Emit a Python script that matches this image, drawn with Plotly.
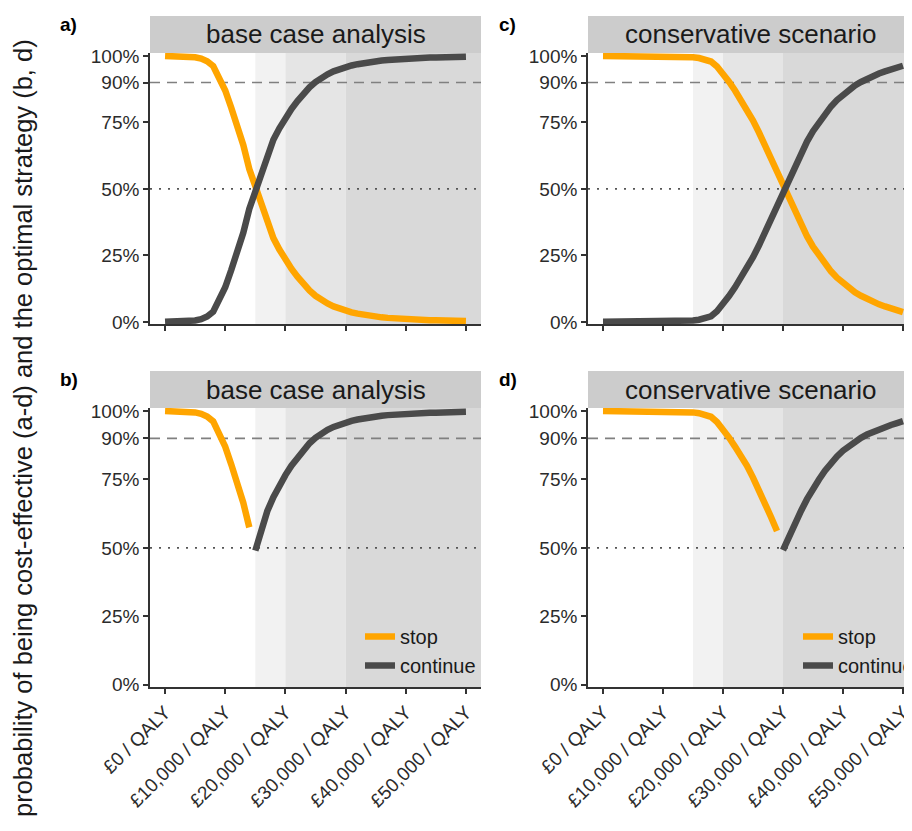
import plotly.graph_objects as go

# ---------------- data ----------------
wtp = list(range(0, 50001, 1000))

base_stop = [1.000, 1.000, 1.000, 0.999, 0.998, 0.995, 0.990, 0.980, 0.962, 0.915,
             0.870, 0.805, 0.740, 0.665, 0.575, 0.510, 0.435, 0.365, 0.315, 0.272,
             0.234, 0.200, 0.170, 0.142, 0.118, 0.098, 0.082, 0.069, 0.058, 0.049,
             0.042, 0.036, 0.031, 0.026, 0.022, 0.019, 0.017, 0.015, 0.013, 0.011,
             0.010, 0.009, 0.008, 0.007, 0.006, 0.006, 0.005, 0.005, 0.004, 0.004,
             0.003]
base_continue = [0.000, 0.000, 0.000, 0.001, 0.002, 0.005, 0.010, 0.020, 0.038, 0.085,
                 0.130, 0.195, 0.260, 0.335, 0.425, 0.490, 0.565, 0.635, 0.685, 0.728,
                 0.766, 0.800, 0.830, 0.858, 0.882, 0.902, 0.918, 0.931, 0.942, 0.951,
                 0.958, 0.964, 0.969, 0.974, 0.978, 0.981, 0.983, 0.985, 0.987, 0.989,
                 0.990, 0.991, 0.992, 0.993, 0.994, 0.994, 0.995, 0.995, 0.996, 0.996,
                 0.997]
cons_stop = [1.000, 1.000, 1.000, 1.000, 1.000, 1.000, 1.000, 1.000, 1.000, 0.999,
             0.999, 0.999, 0.998, 0.998, 0.997, 0.995, 0.992, 0.987, 0.979, 0.960,
             0.935, 0.903, 0.870, 0.836, 0.800, 0.757, 0.712, 0.663, 0.613, 0.562,
             0.508, 0.457, 0.410, 0.365, 0.322, 0.283, 0.250, 0.218, 0.190, 0.166,
             0.145, 0.127, 0.111, 0.098, 0.086, 0.076, 0.066, 0.058, 0.051, 0.044,
             0.037]
cons_continue = [0.000, 0.000, 0.000, 0.000, 0.000, 0.000, 0.000, 0.000, 0.000, 0.001,
                 0.001, 0.001, 0.002, 0.002, 0.003, 0.005, 0.008, 0.013, 0.021, 0.040,
                 0.065, 0.097, 0.130, 0.164, 0.200, 0.243, 0.288, 0.337, 0.387, 0.438,
                 0.492, 0.543, 0.590, 0.635, 0.678, 0.717, 0.750, 0.782, 0.810, 0.834,
                 0.855, 0.873, 0.889, 0.902, 0.914, 0.924, 0.934, 0.942, 0.949, 0.956,
                 0.963]

# threshold at which the optimal strategy switches from stop to continue
base_switch = 15000
cons_switch = 30000

# willingness-to-pay bands shaded in the background
band_edges = [15000, 20000, 30000]

x_ticks = [0, 10000, 20000, 30000, 40000, 50000]
x_labels = ["£0 / QALY", "£10,000 / QALY", "£20,000 / QALY",
            "£30,000 / QALY", "£40,000 / QALY", "£50,000 / QALY"]
y_ticks = [0, 0.25, 0.5, 0.75, 0.9, 1.0]
y_labels = ["0%", "25%", "50%", "75%", "90%", "100%"]

strip_titles = ["base case analysis", "conservative scenario"]
series_names = ["stop", "continue"]
y_title = "probability of being cost-effective (a-d) and the optimal strategy (b, d)"

# ---------------- styling ----------------
W, H = 912, 831
OFF = 8  # page body margin
ORANGE = "#FFA500"
DARK = "#4A4A4A"
AXIS = "#333333"
FONT = "Liberation Sans, Arial, sans-serif"
band_colors = ["#F2F2F2", "#E5E5E5", "#D9D9D9"]
STRIP = "#CCCCCC"


def px_x(p):
    return (p - OFF) / W


def px_y(p):
    return 1 - (p - OFF) / H


cols = [(150, 481), (588, 912)]
rows = [(53, 324), (408, 687)]
strips = [(16, 53), (371, 408)]
xranges = [[-2500, 52500], [-2500, 51500]]
yrange = [-0.008, 1.011]

fig = go.Figure()

panels = [
    (0, 0, "base", False, "a)"),
    (1, 0, "base", True, "b)"),
    (0, 1, "cons", False, "c)"),
    (1, 1, "cons", True, "d)"),
]

shapes = []
annotations = []

for idx, (r, c, scen, optimal, tag) in enumerate(panels):
    n = idx + 1
    xa = "x" if n == 1 else f"x{n}"
    ya = "y" if n == 1 else f"y{n}"
    xkey = "xaxis" if n == 1 else f"xaxis{n}"
    ykey = "yaxis" if n == 1 else f"yaxis{n}"
    stop = base_stop if scen == "base" else cons_stop
    cont = base_continue if scen == "base" else cons_continue
    switch = base_switch if scen == "base" else cons_switch

    if optimal:
        sx = [w for w in wtp if w < switch]
        sy = [v for w, v in zip(wtp, stop) if w < switch]
        cx = [w for w in wtp if w >= switch]
        cy = [v for w, v in zip(wtp, cont) if w >= switch]
        leg = "legend" if c == 0 else "legend2"
        show = True
    else:
        sx, sy, cx, cy = wtp, stop, wtp, cont
        leg = "legend"
        show = False

    fig.add_trace(go.Scatter(x=sx, y=sy, mode="lines", name=series_names[0],
                             line=dict(color=ORANGE, width=6.5), xaxis=xa, yaxis=ya,
                             showlegend=show, legend=leg))
    fig.add_trace(go.Scatter(x=cx, y=cy, mode="lines", name=series_names[1],
                             line=dict(color=DARK, width=6.5), xaxis=xa, yaxis=ya,
                             showlegend=show, legend=leg))

    x0p, x1p = cols[c]
    y0p, y1p = rows[r]
    xr = xranges[c]
    fig.update_layout(**{
        xkey: dict(domain=[px_x(x0p), px_x(x1p)], range=xr, anchor=ya,
                   showgrid=False, zeroline=False, showline=True, linecolor=AXIS,
                   linewidth=1.6, ticks="outside", ticklen=5, tickwidth=1.6,
                   tickcolor=AXIS, tickvals=x_ticks, ticktext=x_labels,
                   showticklabels=(r == 1), tickangle=-45,
                   tickfont=dict(family=FONT, size=19, color="#2B2B2B"),
                   automargin=False, fixedrange=True),
        ykey: dict(domain=[px_y(y1p), px_y(y0p)], range=yrange, anchor=xa,
                   showgrid=False, zeroline=False, showline=True, linecolor=AXIS,
                   linewidth=1.6, ticks="outside", ticklen=5, tickwidth=1.6,
                   tickcolor=AXIS, tickvals=y_ticks, ticktext=y_labels,
                   tickfont=dict(family=FONT, size=19, color="#2B2B2B"),
                   automargin=False, fixedrange=True),
    })

    edges = band_edges + [xr[1]]
    for k in range(len(band_edges)):
        shapes.append(dict(type="rect", xref=xa, yref=f"{ya} domain",
                           x0=edges[k], x1=edges[k + 1], y0=0, y1=1,
                           fillcolor=band_colors[k], line=dict(width=0), layer="below"))
    shapes.append(dict(type="line", xref=f"{xa} domain", yref=ya, x0=0, x1=1,
                       y0=0.9, y1=0.9, line=dict(color="#808080", width=1.6,
                                                 dash="10px,7px"), layer="below"))
    shapes.append(dict(type="line", xref=f"{xa} domain", yref=ya, x0=0, x1=1,
                       y0=0.5, y1=0.5, line=dict(color="#555555", width=1.6,
                                                 dash="2px,7px"), layer="below"))
    s0, s1 = strips[r]
    shapes.append(dict(type="rect", xref="paper", yref="paper",
                       x0=px_x(x0p), x1=px_x(x1p), y0=px_y(s1), y1=px_y(s0),
                       fillcolor=STRIP, line=dict(width=0), layer="below"))
    annotations.append(dict(xref="paper", yref="paper", x=px_x((x0p + x1p) / 2),
                            y=px_y((s0 + s1) / 2), text=strip_titles[c],
                            showarrow=False, xanchor="center", yanchor="middle",
                            font=dict(family=FONT, size=26, color="#1A1A1A")))
    tag_x = 58 if c == 0 else 497
    annotations.append(dict(xref="paper", yref="paper", x=px_x(tag_x),
                            y=px_y(s0 + 9), text=f"<b>{tag}</b>", showarrow=False,
                            xanchor="left", yanchor="middle",
                            font=dict(family=FONT, size=19, color="#000000")))

annotations.append(dict(xref="paper", yref="paper", x=px_x(23), y=px_y(428),
                        text=y_title, textangle=-90, showarrow=False,
                        xanchor="center", yanchor="middle",
                        font=dict(family=FONT, size=25.5, color="#1A1A1A")))

legend_style = dict(font=dict(family=FONT, size=20, color="#1A1A1A"),
                    bgcolor="rgba(0,0,0,0)", borderwidth=0, tracegroupgap=0,
                    xanchor="left", yanchor="top", itemclick=False,
                    itemdoubleclick=False)

fig.update_layout(
    width=W, height=H,
    margin=dict(l=0, r=0, t=0, b=0),
    paper_bgcolor="white", plot_bgcolor="white",
    shapes=shapes, annotations=annotations,
    legend=dict(x=px_x(360), y=px_y(617), **legend_style),
    legend2=dict(x=px_x(798), y=px_y(617), **legend_style),
    font=dict(family=FONT),
)

fig.write_html("out.html")
